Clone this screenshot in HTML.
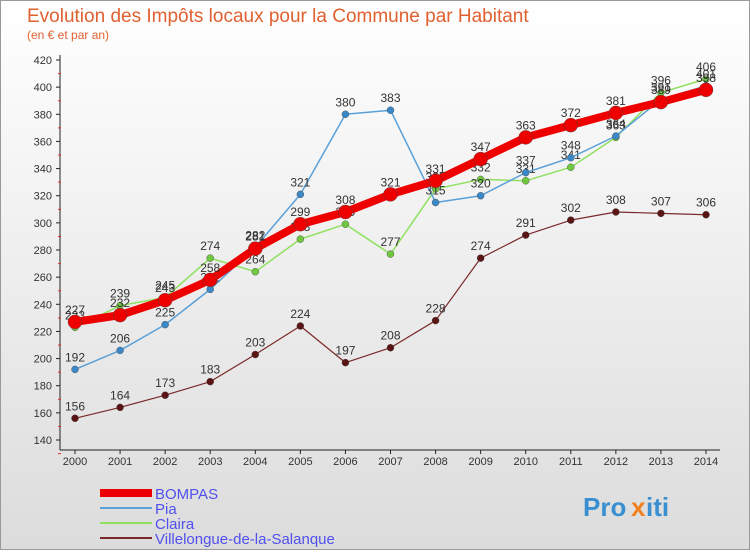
<!DOCTYPE html>
<html><head><meta charset="utf-8"><style>
body{margin:0;width:750px;height:550px;overflow:hidden;font-family:"Liberation Sans",sans-serif}
</style></head><body>
<svg width="750" height="550" xmlns="http://www.w3.org/2000/svg">
<defs><linearGradient id="bg" x1="0" y1="0" x2="0" y2="1"><stop offset="0" stop-color="#ffffff"/><stop offset="1" stop-color="#dcdcdc"/></linearGradient></defs>
<rect x="0.5" y="0.5" width="749" height="549" fill="url(#bg)" stroke="#999"/>
<text x="27" y="22" font-size="19" fill="#e06030">Evolution des Impôts locaux pour la Commune par Habitant</text>
<text x="27" y="39" font-size="12" fill="#e06030">(en € et par an)</text>
<g id="axes"></g><g id="series"></g><g id="legend"></g>
<g font-size="26" font-weight="bold">
<text x="583" y="516" fill="#3a8fd0">Pro</text><text x="631" y="516" fill="#f08020">x</text><text x="646" y="516" fill="#3a8fd0">iti</text>
</g>
</svg>
<script>
const years=[2000,2001,2002,2003,2004,2005,2006,2007,2008,2009,2010,2011,2012,2013,2014];
const bompas=[227,232,243,258,281,299,308,321,331,347,363,372,381,389,398];
const pia=[192,206,225,251,282,321,380,383,315,320,337,348,364,391,401];
const claira=[223,239,245,274,264,288,299,277,325,332,331,341,363,396,406];
const villelongue=[156,164,173,183,203,224,197,208,228,274,291,302,308,307,306];
const yTicks=[140,160,180,200,220,240,260,280,300,320,340,360,380,400,420];
const NS="http://www.w3.org/2000/svg";
const X=i=>75+i*(706-75)/14;
const Y=v=>60+(420-v)*(380/280);
function mk(t,a,p){const e=document.createElementNS(NS,t);for(const k in a)e.setAttribute(k,a[k]);p.appendChild(e);return e;}
const ax=document.getElementById('axes');
const yl=mk('line',{x1:60,y1:55,x2:60,y2:450,stroke:'#222'},ax);


const xl=mk('line',{x1:60,y1:450,x2:720,y2:450,stroke:'#222'},ax);


yTicks.forEach(v=>{const y=Y(v);
mk('line',{x1:56,y1:y,x2:60,y2:y,stroke:'#222'},ax);
mk('line',{x1:58,y1:y+13.6,x2:61,y2:y+13.6,stroke:'#e03030'},ax);
const t=mk('text',{x:52,y:y+4,'font-size':11,'text-anchor':'end',fill:'#333'},ax);t.textContent=v;

});
years.forEach((yr,i)=>{const x=X(i);
mk('line',{x1:x,y1:450,x2:x,y2:454,stroke:'#222'},ax);
const t=mk('text',{x:x,y:465,'font-size':11,'text-anchor':'middle',fill:'#333'},ax);t.textContent=yr;

});
const sg=document.getElementById('series');
const defs=[
 {d:villelongue,c:'#7a2a2a',w:1.2,r:3.5,n:'villelongue',mc:'#5a1414'},
 {d:claira,c:'#90e060',w:1.5,r:3.5,n:'claira',mc:'#70c840'},
 {d:pia,c:'#5aa0d8',w:1.5,r:3.5,n:'pia',mc:'#3a88c8'},
 {d:bompas,c:'#ee0000',w:8,r:7,n:'bompas',mc:'#ee0000'}];
defs.forEach(s=>{const g=mk('g',{},sg);


const pl=mk('polyline',{points:s.d.map((v,i)=>X(i)+','+Y(v)).join(' '),fill:'none',stroke:s.c,'stroke-width':s.w,'stroke-linejoin':'round'},g);


s.d.forEach((v,i)=>{const c=mk('circle',{cx:X(i),cy:Y(v),r:s.r,fill:s.mc,stroke:'#444','stroke-width':0.4},g);


const t=mk('text',{x:X(i),y:Y(v)-8,'font-size':12,'text-anchor':'middle',fill:'#333'},g);t.textContent=v;

});});
const lg=document.getElementById('legend');
const items=[['BOMPAS','#ee0000',8],['Pia','#5aa0d8',2],['Claira','#90e060',2],['Villelongue-de-la-Salanque','#7a2a2a',2]];
items.forEach((it,i)=>{const y=493+i*15;const g=mk('g',{},lg);


mk('line',{x1:100,y1:y,x2:152,y2:y,stroke:it[1],'stroke-width':it[2]},g);
const t=mk('text',{x:155,y:y+6,'font-size':15,fill:'#5050ee'},g);t.textContent=it[0];});
</script>
</body></html>
